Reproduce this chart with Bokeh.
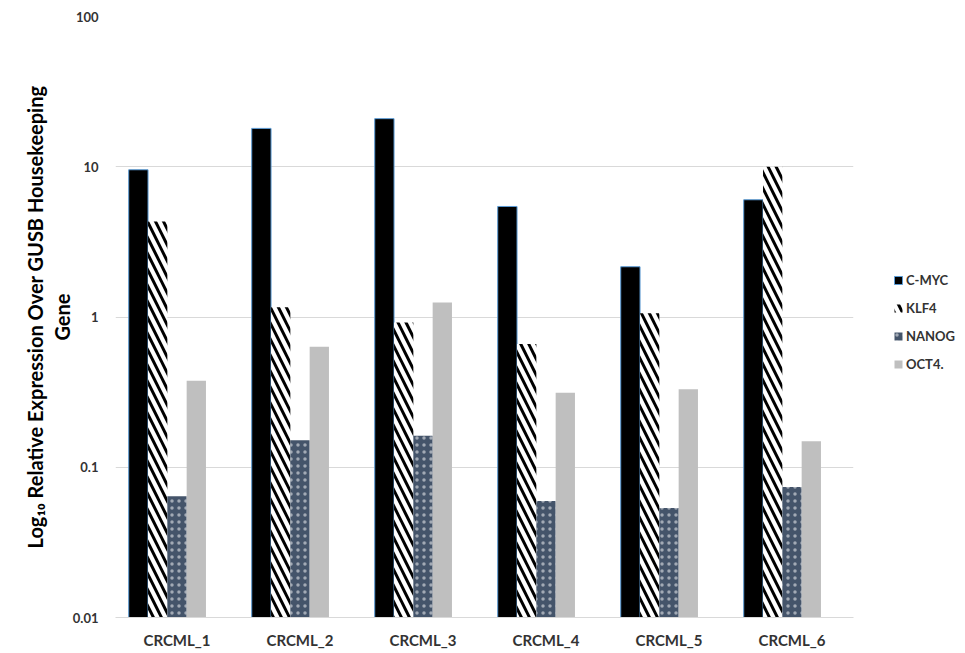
from bokeh.plotting import figure
from bokeh.models import (FactorRange, FixedTicker, CustomJSTickFormatter, Legend,
                          LegendItem, ColumnDataSource, LogAxis)
from bokeh.transform import dodge
from bokeh.embed import file_html
from bokeh.resources import INLINE

# ---- data ----
categories = ["CRCML_1", "CRCML_2", "CRCML_3", "CRCML_4", "CRCML_5", "CRCML_6"]
series_names = ["C-MYC", "KLF4", "NANOG", "OCT4."]
c_myc = [9.55, 18.0, 20.9, 5.44, 2.16, 6.03]
klf4 = [4.32, 1.16, 0.92, 0.66, 1.06, 10.0]
nanog = [0.064, 0.151, 0.162, 0.0596, 0.0535, 0.074]
oct4 = [0.376, 0.634, 1.25, 0.313, 0.33, 0.149]
y_ticks = [0.01, 0.1, 1, 10, 100]
y_tick_labels = ["0.01", "0.1", "1", "10", "100"]
y_title_1 = "Log\u2081\u2080 Relative Expression Over GUSB Housekeeping"
y_title_2 = "Gene"

FONT = "Lato"
TXT = "#333333"

source = ColumnDataSource(dict(cat=categories, c_myc=c_myc, klf4=klf4,
                               nanog=nanog, oct4=oct4,
                               base=[0.01] * len(categories)))

p = figure(x_range=FactorRange(*categories), y_axis_type="log",
           y_range=(0.01, 100), frame_width=738, frame_height=601,
           output_backend="svg", toolbar_location=None,
           min_border_left=115, min_border_right=108,
           min_border_top=16, min_border_bottom=20)
p.outline_line_color = None
p.background_fill_color = "white"

w = 0.157
r1 = p.vbar(x=dodge("cat", -2 * w, range=p.x_range), top="c_myc", bottom="base",
            width=w, source=source, fill_color="black", line_color="#5b9bd5",
            line_width=1)
r2 = p.vbar(x=dodge("cat", -1 * w, range=p.x_range), top="klf4", bottom="base",
            width=w, source=source, fill_color="white", line_color=None,
            hatch_pattern="left_diagonal_line", hatch_color="black",
            hatch_scale=16, hatch_weight=3)
r3 = p.vbar(x=dodge("cat", 0, range=p.x_range), top="nanog", bottom="base",
            width=w, source=source, fill_color="#44546a", line_color=None,
            hatch_pattern="dot", hatch_color="white", hatch_alpha=0.5,
            hatch_scale=7, hatch_weight=0.5)
r4 = p.vbar(x=dodge("cat", 1 * w, range=p.x_range), top="oct4", bottom="base",
            width=w, source=source, fill_color="#bfbfbf", line_color=None)

# axes
p.yaxis.ticker = FixedTicker(ticks=y_ticks)
p.yaxis.formatter = CustomJSTickFormatter(
    args=dict(tvals=y_ticks, tlabels=y_tick_labels),
    code="""
    for (let i = 0; i < tvals.length; i++) {
        if (Math.abs(Math.log10(tick) - Math.log10(tvals[i])) < 1e-6) return tlabels[i];
    }
    return "";
    """)
p.yaxis.axis_line_color = None
p.yaxis.major_tick_line_color = None
p.yaxis.minor_tick_line_color = None
p.yaxis.major_tick_out = 0
p.yaxis.major_label_standoff = 17
p.yaxis.major_label_text_font = FONT
p.yaxis.major_label_text_font_style = "bold"
p.yaxis.major_label_text_font_size = "13px"
p.yaxis.major_label_text_color = TXT
p.yaxis.axis_label = y_title_2
p.yaxis.axis_label_text_font = FONT
p.yaxis.axis_label_text_font_style = "bold"
p.yaxis.axis_label_text_font_size = "20px"
p.yaxis.axis_label_text_color = "black"
p.yaxis.axis_label_standoff = -4

outer = LogAxis(ticker=FixedTicker(ticks=[]), axis_label=y_title_1,
                axis_line_color=None, major_tick_line_color=None,
                minor_tick_line_color=None, major_tick_out=0, minor_tick_out=0,
                major_label_standoff=0, axis_label_standoff=0,
                axis_label_text_font=FONT, axis_label_text_font_style="bold",
                axis_label_text_font_size="20px", axis_label_text_color="black")
p.add_layout(outer, "left")

p.xaxis.axis_line_color = "#d9d9d9"
p.xaxis.axis_line_width = 1
p.xaxis.major_tick_line_color = None
p.xaxis.minor_tick_line_color = None
p.xaxis.major_tick_out = 0
p.xaxis.major_label_standoff = 13
p.xaxis.major_label_text_font = FONT
p.xaxis.major_label_text_font_style = "bold"
p.xaxis.major_label_text_font_size = "15px"
p.xaxis.major_label_text_color = TXT

p.xgrid.grid_line_color = None
p.ygrid.ticker = FixedTicker(ticks=y_ticks[:-1])
p.ygrid.grid_line_color = "#d9d9d9"
p.ygrid.grid_line_width = 1
p.ygrid.minor_grid_line_color = None

legend = Legend(items=[LegendItem(label=n, renderers=[r]) for n, r in
                       zip(series_names, [r1, r2, r3, r4])],
                location=(40, 245), orientation="vertical",
                glyph_width=10, glyph_height=10, spacing=12, padding=0, margin=0,
                label_standoff=3, border_line_color=None,
                background_fill_alpha=0, label_text_font=FONT,
                label_text_font_style="bold", label_text_font_size="13px",
                label_text_color=TXT)
p.add_layout(legend, "right")

open("out.html", "w").write(file_html(p, INLINE))
